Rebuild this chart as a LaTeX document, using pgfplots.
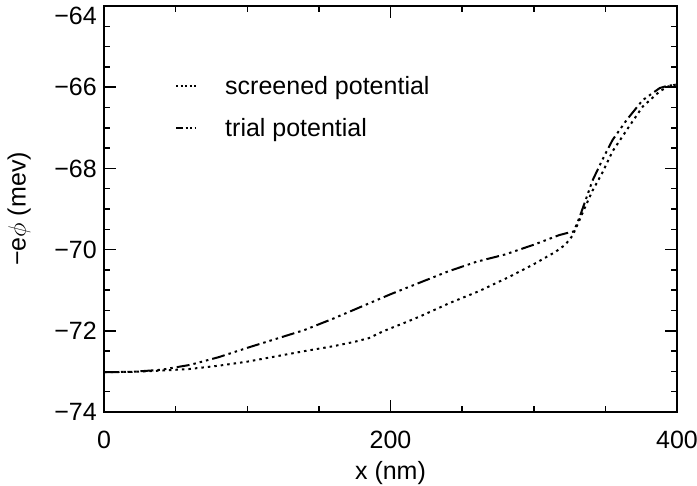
\documentclass[border=0pt]{standalone}
\usepackage{fontspec}
\setmainfont{Liberation Sans}
\usepackage{pgfplots}
\pgfplotsset{compat=1.18}
\usetikzlibrary{calc}

\begin{document}
\begin{tikzpicture}
\begin{axis}[
  name=ax,
  scale only axis, width=573pt, height=406pt,
  xmin=0, xmax=400, ymin=-74, ymax=-64,
  xtick={0,200,400}, minor x tick num=3,
  ytick={-74,-72,-70,-68,-66,-64}, minor y tick num=3,
  yticklabels={−74,−72,−70,−68,−66,\raisebox{-19pt}[0pt][0pt]{−64}},
  tick align=inside,
  major tick length=12pt, minor tick length=6pt,
  every tick/.style={black, line width=1.5pt},
  axis line style={line width=1.8pt},
  font=\fontsize{25}{30}\selectfont,
  /pgf/number format/assume math mode=true,
  yticklabel style={inner sep=0pt, anchor=east, xshift=-7pt},
  xticklabel style={inner sep=0pt, anchor=north, yshift=-19pt},
  xlabel={x (nm)}, ylabel={−e$\phi$ (mev)},
  xlabel style={at={(axis description cs:0.5,-0.150)}, anchor=center},
  ylabel style={at={(axis description cs:-0.148,0.5)}, anchor=center},
  legend style={at={(axis description cs:0.124,0.827)}, anchor=north west,
    draw=none, fill=none, inner sep=0pt, row sep=22pt,
    nodes={inner sep=0pt, anchor=west}},
  legend cell align=left,
]
\addplot[black, line width=2pt, dash pattern=on 2.5pt off 4pt,
  legend image code/.code={\draw[black, line width=2pt, dash pattern=on 2pt off 2.5pt] (0pt,0pt) -- (22pt,0pt); \path (48pt,0pt);}]
coordinates {
(0,-73.02) (20,-73.01) (40,-72.98) (60,-72.94) (80,-72.86) (100,-72.76)
(120,-72.63) (140,-72.50) (160,-72.38) (175,-72.27) (185,-72.18) (195,-72.01)
(210,-71.80) (221,-71.64) (241,-71.32) (262,-71.02) (283,-70.67) (300,-70.36)
(315,-70.06) (322,-69.88) (327,-69.66) (331,-69.35) (335,-69.02) (341,-68.55)
(348,-68.10) (355,-67.58) (365,-67.05) (376,-66.48) (388,-66.10) (394,-65.98)
(400,-65.93)
};
\addlegendentry{screened potential}
\addplot[black, line width=2pt,
  dash pattern=on 13pt off 4pt on 2.5pt off 4pt on 2.5pt off 4pt on 2.5pt off 4pt,
  legend image code/.code={\draw[black, line width=2pt, dash pattern=on 7pt off 2.5pt on 2pt off 2.5pt on 2pt off 2.5pt on 2pt off 2.5pt] (0pt,0pt) -- (20pt,0pt); \path (48pt,0pt);}]
coordinates {
(0,-73.02) (20,-73.01) (40,-72.96) (60,-72.84) (80,-72.65) (100,-72.42)
(120,-72.20) (140,-71.98) (160,-71.70) (180,-71.40) (200,-71.10) (220,-70.82)
(240,-70.54) (260,-70.30) (280,-70.12) (300,-69.88) (318,-69.64) (328,-69.55)
(332,-69.20) (336,-68.80) (341,-68.30) (348,-67.78) (355,-67.30) (365,-66.80)
(376,-66.32) (388,-66.02) (394,-65.96) (400,-65.95)
};
\addlegendentry{trial potential}
\end{axis}
\pgfresetboundingbox
\path[use as bounding box] ($(ax.south west)+(-104pt,-74pt)$) rectangle ($(ax.north east)+(20pt,6pt)$);
\end{tikzpicture}
\end{document}
